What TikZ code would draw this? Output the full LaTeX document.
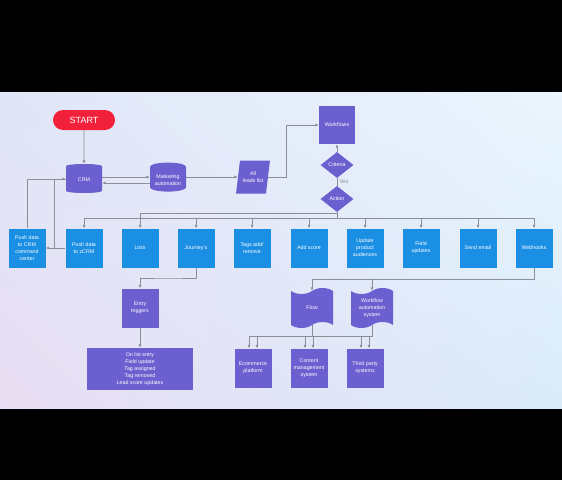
\documentclass[tikz,border=0pt]{standalone}
\usepackage{fontspec}
\setmainfont{Liberation Sans}
\usetikzlibrary{arrows.meta,positioning,calc,shapes.geometric,shapes.symbols,shadings}

\definecolor{purp}{HTML}{6C5FD0}
\definecolor{azure}{HTML}{1A8FE3}
\definecolor{startred}{HTML}{F2213B}
\definecolor{wire}{HTML}{8C8F96}
\definecolor{bgA}{RGB}{233,222,243}
\definecolor{bgB}{RGB}{218,235,250}
\definecolor{bgC}{RGB}{224,230,247}
\definecolor{bgD}{RGB}{234,245,253}

\begin{document}
\begin{tikzpicture}[x=1pt, y=-1pt,
  every node/.style={font=\fontsize{5.3}{7}\selectfont, text=white, align=center, inner sep=1pt},
  flow/.style={draw=wire, line width=0.6pt, -{Latex[length=3.4pt,width=3pt]}},
  link/.style={draw=wire, line width=0.6pt},
  pbox/.style={rectangle, fill=purp, minimum width=37pt, minimum height=39pt},
  bbox/.style={rectangle, fill=azure, minimum width=37pt, minimum height=39pt},
  dbase/.style={cylinder, shape border rotate=90, aspect=0.3, fill=purp, minimum width=36pt, minimum height=29pt},
  datain/.style={trapezium, trapezium stretches=true, trapezium left angle=75, trapezium right angle=105, fill=purp, minimum width=34pt, minimum height=33pt},
  decide/.style={diamond, aspect=1.3, fill=purp, minimum width=33pt, minimum height=26pt, inner sep=0pt},
  docu/.style={tape, fill=purp, minimum width=42pt, minimum height=40pt, tape bend height=6pt},
  startbox/.style={rectangle, rounded corners=10pt, fill=startred, minimum width=62pt, minimum height=20pt, font=\fontsize{9}{10}\selectfont}
]
  % Hintergrund
  \useasboundingbox (0,0) rectangle (562,480);
  \fill[black] (0,0) rectangle (562,480);
  \shade[upper left=bgC, upper right=bgD, lower left=bgA, lower right=bgB]
    (0,92) rectangle (562,408);

  % Start und Datenquellen
  \node[startbox] (start) at (84,120) {START};
  \node[dbase] (crm) at (84,180) {CRM};
  \node[dbase] (mkt) at (168,180) {Marketing\\automation};
  \node[datain] (leads) at (253,177) {All\\leads list};

  % Workflows und Entscheidungen
  \node[pbox, minimum width=36pt, minimum height=38pt] (wf) at (337,125) {Workflows};
  \node[decide] (crit) at (337,165) {Criteria};
  \node[decide] (act) at (337,199) {Action};

  % Aktionen
  \node[bbox] (cmd) at (27,248) {Push data\\to CRM\\command\\center};
  \node[bbox] (zcrm) at (84,248) {Push data\\to zCRM};
  \node[bbox] (lists) at (140,248) {Lists};
  \node[bbox] (journ) at (196,248) {Journey's};
  \node[bbox] (tags) at (252,248) {Tags add/\\remove};
  \node[bbox] (score) at (309,248) {Add score};
  \node[bbox] (upd) at (365,248) {Update\\product\\audiences};
  \node[bbox] (field) at (421,248) {Field\\updates};
  \node[bbox] (email) at (478,248) {Send email};
  \node[bbox] (hooks) at (534,248) {Webhooks};

  % Trigger
  \node[pbox] (entry) at (140,308) {Entry\\triggers};
  \node[pbox, minimum width=106pt, minimum height=42pt] (trig) at (140,369)
    {On list entry\\Field update\\Tag assigned\\Tag removed\\Lead score updates};

  % Webhooks Ziele
  \node[docu] (flowdoc) at (312,308) {Flow};
  \node[docu] (was) at (372,308) {Workflow\\automation\\system};
  \node[pbox] (ecom) at (253,368) {Ecommerce\\platform};
  \node[pbox] (cms) at (309,368) {Content\\management\\system};
  \node[pbox] (third) at (365,368) {Third party\\systems};

  % Verbindungen oben
  \draw[flow] (start) -- (crm);
  \draw[flow] ([yshift=3pt]crm.east) -- ([yshift=3pt]crm.east -| mkt.west);
  \draw[flow] ([yshift=-3pt]mkt.west) -- ([yshift=-3pt]mkt.west -| crm.east);
  \draw[flow] ([yshift=3pt]mkt.east) -- ([yshift=3pt]mkt.east -| leads.west);
  \draw[flow] (leads.east) -- ++(18,0) |- (wf.west);
  \draw[flow] (crit) -- (wf);
  \draw[link] (crit) -- node[right=1pt, text=wire, font=\fontsize{5.5}{6}\selectfont] {Yes} (act);

  % Verteiler unter Action
  \coordinate (busA) at (0,213);
  \coordinate (busB) at (0,218);
  \draw[flow] (act.south) |- (lists.north |- busA) -- (lists.north);
  \foreach \n in {zcrm,journ,tags,score,upd,field,email,hooks}
    \draw[flow] (act.south) |- (\n.north |- busB) -- (\n.north);

  % Rueckfuehrung ins CRM
  \coordinate (zup) at ($(cmd.east)!0.45!(zcrm.west)$);
  \draw[flow] (zcrm.west) -- (cmd.east);
  \draw[flow] (cmd.north) |- ([yshift=1pt]crm.west);
  \draw[link] (zcrm.west) -- (zup) |- ([yshift=1pt]crm.west);

  % Journey's
  \draw[flow] (journ.south) |- ($(journ.south)!0.5!(entry.north)$) -| (entry.north);
  \draw[flow] (entry) -- (trig);

  % Webhooks
  \draw[flow] (hooks.south) |- ($(hooks.south)!0.5!(flowdoc.north)$) -| (flowdoc.north);
  \draw[flow] (hooks.south) |- ($(hooks.south)!0.5!(was.north)$) -| (was.north);
  \foreach \n in {ecom,cms,third}{
    \draw[flow] (flowdoc.south) |- ($(flowdoc.south)!0.5!(cms.north)$) -| ([xshift=4pt]\n.north);
    \draw[flow] (was.south) |- ($(was.south)!0.5!(third.north)$) -| ([xshift=-4pt]\n.north);
  }
\end{tikzpicture}
\end{document}
